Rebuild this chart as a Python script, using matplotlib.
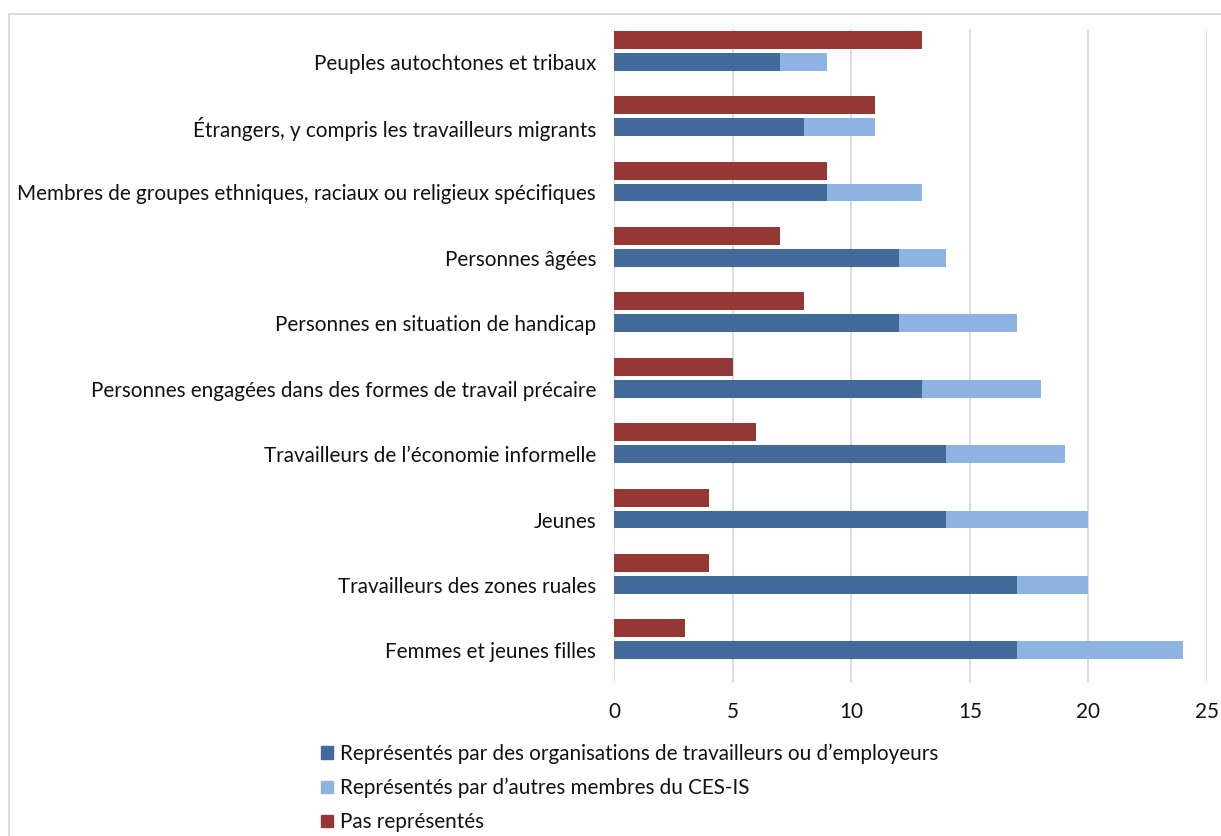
import matplotlib
matplotlib.use("Agg")
import matplotlib.pyplot as plt
from matplotlib.patches import Rectangle, Patch
import numpy as np

plt.rcParams['font.family'] = ['Lato', 'DejaVu Sans']

categories = [
    "Femmes et jeunes filles",
    "Travailleurs des zones ruales",
    "Jeunes",
    "Travailleurs de l\u2019économie informelle",
    "Personnes engagées dans des formes de travail précaire",
    "Personnes en situation de handicap",
    "Personnes âgées",
    "Membres de groupes ethniques, raciaux ou religieux spécifiques",
    "Étrangers, y compris les travailleurs migrants",
    "Peuples autochtones et tribaux",
]
workers_employers = [17, 17, 14, 14, 13, 12, 12, 9, 8, 7]
other_members = [7, 3, 6, 5, 5, 5, 2, 4, 3, 2]
not_represented = [3, 4, 4, 6, 5, 8, 7, 9, 11, 13]

legend_labels = [
    "Représentés par des organisations de travailleurs ou d\u2019employeurs",
    "Représentés par d\u2019autres membres du CES-IS",
    "Pas représentés",
]
x_ticks = [0, 5, 10, 15, 20, 25]

c_dark = "#416A9B"
c_light = "#8DB3E2"
c_red = "#953735"
grid_c = "#D9D9D9"
text_c = "#111111"
fs = 14.9

W, H = 1221, 836
fig = plt.figure(figsize=(W / 100, H / 100), dpi=100)
ax = fig.add_axes([614 / W, 1 - 683 / H, (1207 - 614) / W, (683 - 29) / H])

y = np.arange(len(categories))
bar_h = 0.275
red_off = 0.336

ax.barh(y, workers_employers, height=bar_h, color=c_dark, zorder=3)
ax.barh(y, other_members, left=workers_employers, height=bar_h, color=c_light, zorder=3)
ax.barh(y + red_off, not_represented, height=bar_h, color=c_red, zorder=3)

ax.set_xlim(0, 25)
ax.set_ylim(-0.5, 9.5)
ax.set_xticks(x_ticks)
ax.set_yticks(y)
ax.set_yticklabels(categories)
ax.tick_params(axis='both', length=0, labelsize=fs, colors=text_c)
ax.tick_params(axis='y', pad=13)
ax.tick_params(axis='x', pad=14)
for s in ax.spines.values():
    s.set_visible(False)
ax.xaxis.grid(True, color=grid_c, linewidth=1.3, zorder=0)
ax.set_axisbelow(True)

# legend stacked under the axis
handles = [Patch(color=c_dark), Patch(color=c_light), Patch(color=c_red)]
leg = fig.legend(handles, legend_labels, loc='upper left',
                 bbox_to_anchor=(311 / W, 1 - 733 / H), frameon=False,
                 fontsize=fs, handlelength=0.55, handleheight=0.55,
                 handletextpad=0.35, labelspacing=0.68, borderpad=0)
for t in leg.get_texts():
    t.set_color(text_c)

# outer frame of the chart area
fig.add_artist(Rectangle((9 / W, -0.05), 1.2, 1.05 - 14 / H,
                         transform=fig.transFigure, fill=False,
                         edgecolor=grid_c, linewidth=1.3, clip_on=False))

fig.savefig("out.png", dpi=100)
